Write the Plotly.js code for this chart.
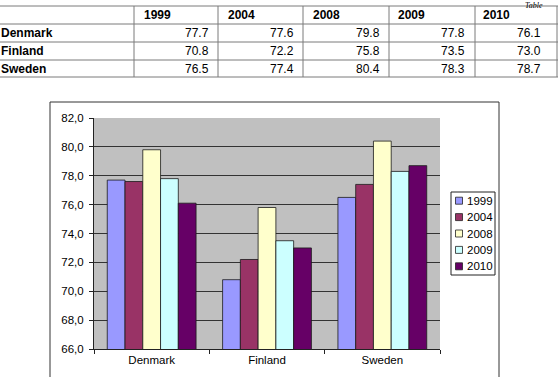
<!DOCTYPE html>
<html>
<head>
<meta charset="utf-8">
<script src="https://cdn.plot.ly/plotly-3.0.1.min.js"></script>
<style>html,body{margin:0;padding:0;background:#fff;}#chart{width:558px;height:377px;}</style>
</head>
<body>
<div id="chart"></div>
<script>
// ---- data ----
const categories = ['Denmark', 'Finland', 'Sweden'];
const years = ['1999', '2004', '2008', '2009', '2010'];
const v1999 = [77.7, 70.8, 76.5];
const v2004 = [77.6, 72.2, 77.4];
const v2008 = [79.8, 75.8, 80.4];
const v2009 = [77.8, 73.5, 78.3];
const v2010 = [76.1, 73.0, 78.7];
const seriesValues = [v1999, v2004, v2008, v2009, v2010];
const tableCaption = 'Table';

// ---- styles ----
const colors = ['#9999FF', '#993366', '#FFFFCC', '#CCFFFF', '#660066'];
const W = 558, H = 377;
const px = x => x / W;
const py = y => 1 - y / H;
const FONT = 'Liberation Sans, Arial, sans-serif';

const traces = years.map((yr, i) => ({
  type: 'bar',
  name: yr,
  x: categories,
  y: seriesValues[i],
  marker: {color: colors[i], line: {color: '#1a1a1a', width: 0.8}},
  hoverinfo: 'x+y+name'
}));

const shapes = [];
const annotations = [];

// chart outer frame
shapes.push({type: 'rect', xref: 'paper', yref: 'paper',
  x0: px(50), x1: px(499), y0: py(102), y1: py(390),
  line: {color: '#333', width: 1}, fillcolor: 'rgba(0,0,0,0)', layer: 'below'});

// ---- table (drawn from the same arrays) ----
const rowLines = [6, 24, 42, 60, 77];
const colLines = [134, 218, 303, 389, 475, 557];
const lineStyle = {color: '#7a7a7a', width: 1};
rowLines.forEach(y => shapes.push({type: 'line', xref: 'paper', yref: 'paper',
  x0: px(0), x1: px(558), y0: py(y), y1: py(y), line: lineStyle}));
colLines.forEach(x => shapes.push({type: 'line', xref: 'paper', yref: 'paper',
  x0: px(x), x1: px(x), y0: py(rowLines[0]), y1: py(rowLines[rowLines.length - 1]), line: lineStyle}));

const headerY = 15;
const rowY = [33, 51, 69];
const headerX = [143, 227, 312, 397, 482];
const valueRightX = [210, 295, 381, 466, 542];
years.forEach((yr, j) => annotations.push({xref: 'paper', yref: 'paper',
  x: px(headerX[j]), y: py(headerY), xanchor: 'left', yanchor: 'middle',
  text: '<b>' + yr + '</b>', showarrow: false, borderpad: 0,
  font: {family: FONT, size: 12, color: '#000'}}));
categories.forEach((c, r) => {
  annotations.push({xref: 'paper', yref: 'paper',
    x: px(0), y: py(rowY[r]), xanchor: 'left', yanchor: 'middle',
    text: '<b>' + c + '</b>', showarrow: false, borderpad: 0,
    font: {family: FONT, size: 12, color: '#000'}});
  years.forEach((yr, j) => annotations.push({xref: 'paper', yref: 'paper',
    x: px(valueRightX[j]), y: py(rowY[r]), xanchor: 'right', yanchor: 'middle',
    text: seriesValues[j][r].toFixed(1), showarrow: false, borderpad: 0,
    font: {family: FONT, size: 12, color: '#000'}}));
});
annotations.push({xref: 'paper', yref: 'paper', x: px(524), y: py(0),
  xanchor: 'left', yanchor: 'top', text: '<i>' + tableCaption + '</i>',
  showarrow: false, borderpad: 0,
  font: {family: 'Liberation Serif, Times New Roman, serif', size: 8, color: '#000'}});

// ---- legend box (manual, for Excel-like compact spacing) ----
shapes.push({type: 'rect', xref: 'paper', yref: 'paper',
  x0: px(451), x1: px(495), y0: py(192), y1: py(275),
  line: {color: '#222', width: 1}, fillcolor: '#fff'});
years.forEach((yr, i) => {
  const cy = 200.7 + i * 16.4;
  shapes.push({type: 'rect', xref: 'paper', yref: 'paper',
    x0: px(455.5), x1: px(462.5), y0: py(cy - 3.5), y1: py(cy + 3.5),
    line: {color: '#222', width: 0.8}, fillcolor: colors[i]});
  annotations.push({xref: 'paper', yref: 'paper', x: px(465.5), y: py(cy),
    xanchor: 'left', yanchor: 'middle', text: yr, showarrow: false, borderpad: 0,
    font: {family: FONT, size: 11.5, color: '#000'}});
});

const layout = {
  width: W, height: H,
  margin: {l: 0, r: 0, t: 0, b: 0},
  paper_bgcolor: '#fff',
  plot_bgcolor: '#C0C0C0',
  showlegend: false,
  barmode: 'group',
  bargap: 0.23,
  bargroupgap: 0,
  separators: ', ',
  font: {family: FONT, size: 11.5, color: '#000'},
  xaxis: {
    domain: [px(94), px(440)],
    type: 'category',
    showgrid: false, zeroline: false,
    showline: true, linecolor: '#222', linewidth: 1,
    ticks: 'outside', ticklen: 4, tickcolor: '#222', tickson: 'boundaries',
    tickfont: {family: FONT, size: 11.5, color: '#000'}
  },
  yaxis: {
    domain: [py(349), py(118)],
    range: [66, 82], dtick: 2, tick0: 66, tickformat: '.1f',
    showgrid: true, gridcolor: '#333', gridwidth: 1,
    zeroline: false,
    showline: true, linecolor: '#222', linewidth: 1,
    ticks: 'outside', ticklen: 4, tickcolor: '#222',
    ticklabelstandoff: 3,
    tickfont: {family: FONT, size: 11.5, color: '#000'}
  },
  shapes: shapes,
  annotations: annotations
};

Plotly.newPlot('chart', traces, layout, {displayModeBar: false, staticPlot: true});
</script>
</body>
</html>
